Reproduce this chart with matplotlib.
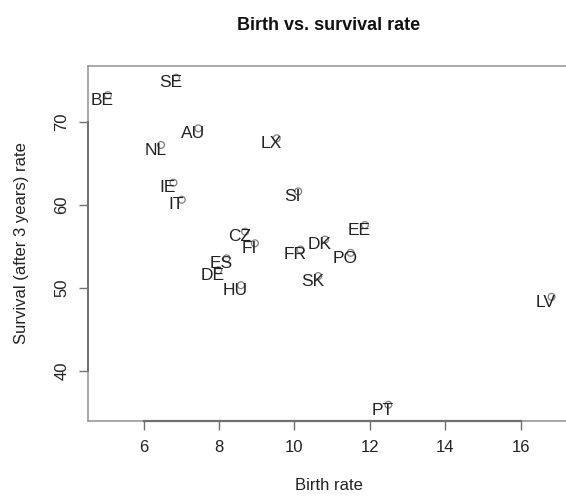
import matplotlib
matplotlib.use("Agg")
import matplotlib.pyplot as plt

countries = ["BE", "SE", "AU", "NL", "LX", "IE", "IT", "SI", "CZ", "FI", "ES",
             "DE", "HU", "FR", "DK", "PO", "SK", "EE", "LV", "PT"]
birth_rate = [5.05, 6.86, 7.45, 6.46, 9.53, 6.79, 7.01, 10.10, 8.69, 8.95, 8.20,
              7.98, 8.58, 10.16, 10.81, 11.49, 10.63, 11.87, 16.82, 12.49]
survival = [73.2, 75.3, 69.2, 67.2, 68.0, 62.65, 60.6, 61.6, 56.75, 55.35, 53.54,
            52.1, 50.3, 54.6, 55.8, 54.2, 51.4, 57.55, 48.9, 35.9]
xticks = [6, 8, 10, 12, 14, 16]
yticks = [40, 50, 60, 70]

plt.rcParams['font.family'] = ['Liberation Sans', 'DejaVu Sans']

W, H = 566, 500
fig = plt.figure(figsize=(W / 100, H / 100), dpi=100)
ax = fig.add_axes([88 / W, (H - 421) / H, (570 - 88) / W, (421 - 66) / H])

ax.scatter(birth_rate, survival, s=24, facecolors='none', edgecolors='#808080',
           linewidths=0.9, zorder=2)
for c, x, y in zip(countries, birth_rate, survival):
    ax.annotate(c, (x, y), xytext=(-4.0, -3.8), textcoords='offset points',
                ha='center', va='center', fontsize=12.5, color='#222222', zorder=3)

ax.set_xlim(4.523, 17.31)
ax.set_ylim(33.94, 76.71)

for s in ax.spines.values():
    s.set_color('#9a9a9a')
    s.set_linewidth(1.2)

# R-style axis lines spanning first to last tick
ax.plot([xticks[0], xticks[-1]], [33.94, 33.94], color='#707070', lw=1.6,
        clip_on=False, zorder=4)
ax.plot([4.523, 4.523], [yticks[0], yticks[-1]], color='#707070', lw=1.4,
        clip_on=False, zorder=4)

ax.set_xticks(xticks)
ax.set_yticks(yticks)
ax.tick_params(axis='both', length=6.5, width=1.0, color='#707070',
               labelsize=12, labelcolor='#222222', pad=7)
for lab in ax.get_yticklabels():
    lab.set_rotation(90)
    lab.set_va('center')

ax.set_xlabel("Birth rate", fontsize=12, color='#222222', labelpad=17)
ax.set_ylabel("Survival (after 3 years) rate", fontsize=12, color='#222222', labelpad=18)
fig.text(329 / W, 1 - 25 / H, "Birth vs. survival rate", ha='center', va='center',
         fontsize=13, fontweight='bold', color='#111111')

fig.savefig("out.png", dpi=100)
